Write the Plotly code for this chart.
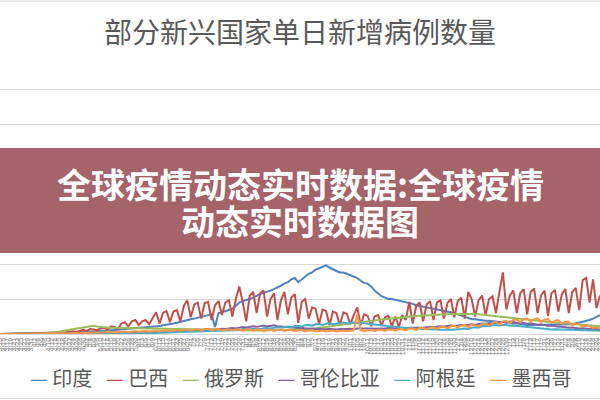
import pandas as pd
import plotly.graph_objects as go

# ---- data (thousands of new cases, sampled every 2 days) ----
START_DATE = "2020-03-13"
N_POINTS = 174
dates = pd.date_range(START_DATE, periods=N_POINTS, freq="2D")
tick_labels = [f"{d.month}/{d.day}" for d in dates]

title_text = "部分新兴国家单日新增病例数量"
banner_line1 = "全球疫情动态实时数据:全球疫情"
banner_line2 = "动态实时数据图"

countries = ["印度", "巴西", "俄罗斯", "哥伦比亚", "阿根廷", "墨西哥"]
colors = ["#4F81BD", "#C0504D", "#9BBB59", "#8064A2", "#4BACC6", "#F79646"]

india = [
    0, 0, 0, 0, 0.1, 0.1, 0.2, 0.2, 0.3, 0.4,
    0.5, 0.6, 0.7, 0.9, 0.9, 1.0, 1.2, 1.3, 1.5, 1.6,
    1.7, 1.8, 1.9, 2.3, 2.6, 3.0, 3.3, 3.6, 4.0, 4.2,
    3.6, 4.8, 5.2, 5.6, 6.0, 6.4, 6.6, 7.0, 7.4, 7.8,
    8.2, 8.8, 9.5, 10, 10.5, 11, 11.5, 12.5, 13, 14,
    15, 16, 17.5, 19, 20, 21, 22, 23, 24, 26,
    27, 28, 10, 30, 31, 33, 34, 36, 40, 45,
    47, 48, 50, 52, 55, 57, 59, 60, 62, 64,
    66, 69, 72, 74, 78, 80, 74, 78, 82, 86,
    88, 92, 94, 96, 98, 95, 92, 90, 88, 88,
    86, 84, 82, 80, 76, 73, 72, 68, 62, 58,
    54, 52, 50, 50, 49, 48, 47, 46, 44, 43,
    41, 40, 39, 38, 38, 37, 36, 35, 34, 33,
    32, 30, 28, 26, 24, 22, 21, 21, 20, 20,
    19, 19, 18, 18, 17, 17, 16, 16, 15, 15,
    14, 14, 13, 13, 13, 13, 13, 13, 13, 13,
    13, 13, 13, 13, 14, 14, 15, 16, 17, 18,
    20, 22, 25, 27,
]
brazil = [
    0, 0, 0.1, 0.2, 0.3, 0.4, 0.5, 0.7, 1.0, 1.1,
    1.2, 1.3, 1.5, 1.6, 2.0, 1.8, 2.5, 2.8, 3.0, 2.5,
    3.5, 4.0, 3.0, 5.0, 6.0, 4.5, 7.0, 6.5, 5.5, 8.0,
    9.0, 6.0, 11, 10, 7, 15, 17, 11, 18, 20,
    13, 18, 20, 14, 22, 31, 15, 30, 33, 17,
    32, 34, 18, 40, 48, 24, 42, 45, 22, 44,
    46, 20, 41, 47, 27, 45, 48, 25, 50, 68,
    45, 18, 55, 60, 30, 58, 62, 25, 50, 58,
    20, 48, 60, 28, 52, 57, 16, 46, 50, 22,
    38, 36, 14, 35, 33, 13, 32, 30, 12, 31,
    29, 14, 27, 38, 13, 28, 26, 11, 25, 27,
    12, 24, 26, 11, 25, 10, 27, 20, 46, 15,
    40, 45, 18, 42, 47, 20, 45, 48, 22, 44,
    50, 24, 47, 52, 22, 60, 50, 25, 48, 55,
    27, 50, 54, 30, 60, 88, 35, 55, 62, 30,
    58, 64, 28, 60, 65, 30, 55, 62, 26, 58,
    63, 32, 57, 64, 30, 60, 66, 34, 77, 80,
    45, 78, 37, 55,
]
russia = [
    0, 0, 0, 0, 0, 0, 0, 0.1, 0.2, 0.3,
    0.4, 0.6, 0.8, 1.2, 1.5, 2.0, 2.8, 3.4, 4.3, 5.2,
    5.8, 6.4, 7.1, 7.9, 9.6, 10.6, 11.0, 11.6, 10.8, 10.0,
    9.5, 9.2, 9.0, 8.9, 8.8, 8.7, 8.6, 8.5, 8.4, 8.2,
    8.0, 7.8, 7.7, 7.6, 7.3, 7.0, 6.8, 6.7, 6.6, 6.6,
    6.5, 6.4, 6.3, 6.2, 6.1, 6.0, 5.9, 5.8, 5.7, 5.6,
    5.5, 5.4, 5.3, 5.2, 5.2, 5.1, 5.1, 5.0, 5.0, 4.9,
    4.9, 4.9, 4.8, 4.8, 4.8, 4.9, 4.9, 5.0, 5.0, 5.1,
    5.2, 5.3, 5.4, 5.5, 5.7, 5.9, 6.1, 6.4, 6.8, 7.2,
    7.6, 8.1, 8.7, 9.3, 10.0, 10.9, 11.6, 12.3, 13.1, 13.9,
    14.5, 15.1, 15.7, 16.3, 17.0, 17.5, 18.0, 18.6, 19.3, 20.0,
    20.6, 21.2, 21.8, 22.4, 23.0, 23.4, 23.8, 24.3, 24.8, 25.2,
    25.6, 26.0, 26.4, 26.8, 27.0, 27.3, 27.6, 27.9, 28.1, 28.3,
    28.5, 28.6, 28.8, 28.9, 29.0, 29.0, 28.9, 28.6, 28.2, 27.8,
    27.3, 26.8, 26.2, 25.6, 25.0, 24.4, 23.8, 23.2, 22.6, 22.0,
    21.4, 20.8, 20.2, 19.7, 19.2, 18.7, 18.2, 17.7, 17.2, 16.8,
    16.4, 16.0, 15.6, 15.2, 14.8, 14.4, 14.0, 13.6, 13.2, 12.8,
    12.4, 12.0, 11.6, 11.2,
]
colombia = [
    0, 0, 0, 0, 0, 0, 0, 0, 0, 0,
    0.1, 0.1, 0.1, 0.2, 0.2, 0.2, 0.3, 0.2, 0.3, 0.3,
    0.3, 0.4, 0.3, 0.4, 0.5, 0.5, 0.6, 0.5, 0.7, 0.8,
    0.7, 0.9, 1.0, 0.8, 1.1, 1.2, 1.0, 1.3, 1.2, 1.5,
    1.6, 1.4, 1.8, 2.0, 1.7, 2.2, 2.5, 2.3, 3.0, 3.2,
    3.0, 3.6, 4.0, 3.5, 4.2, 4.6, 4.0, 5.0, 5.5, 5.0,
    6.0, 6.5, 6.2, 7.0, 7.6, 7.0, 8.2, 8.5, 8.0, 9.5,
    10.0, 9.2, 10.5, 11.0, 10.2, 11.5, 12.0, 10.8, 11.5, 12.5,
    11.0, 10.5, 11.0, 9.5, 10.0, 9.0, 8.5, 9.0, 7.8, 8.0,
    7.5, 7.0, 7.6, 7.2, 6.8, 7.5, 7.0, 6.5, 7.2, 6.8,
    7.0, 7.5, 6.8, 7.8, 8.0, 7.6, 8.5, 8.0, 7.5, 8.2,
    8.0, 7.6, 8.8, 8.5, 8.0, 9.0, 8.6, 8.2, 9.0, 8.8,
    8.5, 9.2, 9.0, 9.5, 10.2, 9.8, 10.5, 11.0, 10.6, 11.5,
    12.0, 11.6, 12.5, 13.0, 12.2, 13.5, 14.0, 13.2, 14.5, 15.0,
    14.6, 15.8, 16.5, 15.5, 17.0, 17.5, 16.2, 17.8, 17.0, 16.0,
    16.5, 15.5, 14.8, 15.2, 14.0, 13.2, 13.6, 12.5, 11.8, 12.0,
    11.0, 10.2, 10.5, 9.6, 9.0, 9.2, 8.5, 8.0, 8.3, 7.6,
    7.2, 7.5, 6.8, 6.5,
]
argentina = [
    0, 0, 0, 0, 0, 0, 0, 0, 0, 0,
    0.1, 0.1, 0.1, 0.1, 0.1, 0.1, 0.1, 0.1, 0.1, 0.1,
    0.1, 0.1, 0.2, 0.2, 0.2, 0.2, 0.2, 0.2, 0.3, 0.3,
    0.3, 0.4, 0.4, 0.5, 0.5, 0.6, 0.7, 0.6, 0.8, 0.9,
    1.0, 1.1, 0.9, 1.3, 1.4, 1.2, 1.8, 2.0, 1.7, 2.3,
    2.5, 2.2, 2.9, 3.2, 2.8, 3.6, 3.8, 3.3, 4.2, 4.4,
    3.9, 4.8, 5.0, 4.5, 5.5, 5.8, 5.1, 6.2, 6.5, 5.8,
    7.0, 7.2, 6.5, 7.6, 7.8, 7.0, 8.3, 8.6, 7.8, 9.2,
    9.5, 8.8, 10.2, 10.6, 9.6, 11.4, 11.8, 10.8, 12.6, 13.0,
    12.0, 13.8, 14.2, 13.0, 14.8, 15.2, 14.0, 15.0, 16.0, 16.5,
    15.0, 16.2, 16.8, 15.5, 16.0, 15.2, 14.8, 14.2, 13.6, 13.0,
    12.4, 11.8, 11.2, 10.6, 10.0, 9.5, 9.0, 8.6, 8.2, 7.8,
    7.5, 7.2, 6.5, 6.8, 6.6, 6.0, 6.3, 6.2, 5.6, 6.0,
    6.2, 6.5, 6.0, 7.2, 7.8, 7.2, 9.0, 9.6, 9.0, 11.0,
    11.6, 11.0, 12.6, 13.0, 12.0, 13.0, 12.8, 11.8, 12.0, 11.5,
    10.5, 10.5, 10.0, 9.0, 9.0, 8.6, 7.8, 7.8, 7.4, 6.6,
    6.8, 6.6, 6.0, 6.2, 6.0, 5.4, 5.6, 5.4, 4.8, 5.0,
    4.9, 4.4, 4.7, 4.6,
]
mexico = [
    0, 0, 0, 0, 0, 0, 0, 0.1, 0.1, 0.2,
    0.2, 0.3, 0.3, 0.4, 0.5, 0.5, 0.6, 0.7, 0.8, 0.9,
    1.0, 1.1, 1.3, 1.4, 1.6, 1.7, 1.9, 2.1, 1.8, 2.3,
    2.5, 2.2, 2.8, 3.0, 2.6, 3.2, 3.4, 3.0, 3.6, 3.8,
    3.2, 4.0, 4.4, 3.5, 4.6, 4.8, 4.0, 5.0, 5.2, 4.2,
    5.5, 5.8, 4.5, 6.0, 6.2, 4.8, 6.5, 6.8, 5.0, 7.0,
    7.2, 5.4, 6.8, 7.0, 5.2, 6.6, 6.9, 5.0, 6.5, 6.8,
    4.8, 6.4, 6.6, 4.6, 6.2, 6.4, 4.5, 6.0, 6.2, 4.3,
    5.8, 6.0, 4.2, 5.6, 5.8, 4.0, 5.4, 5.5, 3.8, 5.0,
    5.2, 3.6, 4.8, 5.0, 3.5, 4.6, 4.9, 3.6, 4.8, 5.0,
    3.8, 5.0, 5.2, 28.0, 5.5, 4.0, 5.4, 5.6, 4.2, 5.8,
    6.0, 4.5, 6.2, 6.5, 5.0, 6.8, 7.0, 5.4, 7.4, 7.8,
    6.0, 8.2, 8.6, 6.5, 9.0, 9.6, 7.2, 10.0, 10.5, 8.0,
    11.0, 11.8, 9.0, 12.2, 12.8, 10.0, 13.5, 12.0, 11.0, 14.0,
    14.8, 12.0, 16.0, 17.0, 13.5, 18.0, 19.0, 15.0, 20.0, 21.0,
    16.5, 21.5, 22.0, 17.5, 21.0, 22.5, 17.0, 20.5, 21.5, 16.0,
    19.0, 20.0, 14.5, 17.0, 17.5, 12.5, 15.0, 14.0, 10.5, 12.0,
    11.0, 8.5, 9.5, 8.0,
]
series = [india, brazil, russia, colombia, argentina, mexico]

Y_MAX = 400
Y_STEP = 50

# ---- figure ----
fig = go.Figure()
for name, vals, col in zip(countries, series, colors):
    fig.add_trace(go.Scatter(
        x=tick_labels, y=vals, mode="lines", name=name,
        line=dict(color=col, width=2), showlegend=False,
    ))

GRID = "#D9D9D9"
TEXT = "#595959"
CJK = "Noto Sans CJK SC"

fig.update_layout(
    width=600, height=400,
    margin=dict(l=0, r=0, t=54, b=66, autoexpand=False),
    paper_bgcolor="white", plot_bgcolor="white",
    xaxis=dict(
        type="category", range=[0, N_POINTS - 1], automargin=False,
        tickmode="array", tickvals=tick_labels, ticktext=tick_labels,
        tickangle=-90, tickfont=dict(size=7, color="#8C8C8C", family="Liberation Sans"),
        showgrid=False, showline=True, linecolor=GRID, linewidth=1,
        ticks="", zeroline=False,
    ),
    yaxis=dict(
        range=[0, Y_MAX], dtick=Y_STEP, showticklabels=False, automargin=False,
        showgrid=True, gridcolor=GRID, gridwidth=1, zeroline=False,
    ),
)

# chart title
fig.add_annotation(
    text=title_text, xref="paper", yref="paper", x=0.5, y=(334 - 31) / 280,
    xanchor="center", yanchor="middle", showarrow=False,
    font=dict(family=CJK, size=28, color=TEXT),
)

# legend as text row
legend_parts = [f"<span style='color:{c}'>—</span> {n}" for n, c in zip(countries, colors)]
fig.add_annotation(
    text="   ".join(legend_parts), xref="paper", yref="paper",
    x=0.5, y=(334 - 378) / 280, xanchor="center", yanchor="middle",
    showarrow=False, font=dict(family=CJK, size=20, color=TEXT),
)

# outer frame lines (top and bottom of the original chart box)
for yy in [(334 - 1) / 280, (334 - 398.5) / 280]:
    fig.add_shape(type="line", xref="paper", yref="paper", x0=0, x1=1, y0=yy, y1=yy,
                  line=dict(color=GRID, width=1))

# overlay banner
fig.add_shape(type="rect", xref="paper", yref="paper", x0=0, x1=1,
              y0=(334 - 253) / 280, y1=(334 - 148) / 280,
              fillcolor="rgba(160,91,98,0.95)", line=dict(width=0), layer="above")
fig.add_annotation(
    text=f"<b>{banner_line1}</b>", xref="paper", yref="paper",
    x=0.5, y=(334 - 183) / 280, xanchor="center", yanchor="middle", showarrow=False,
    font=dict(family=CJK, size=34, color="white"),
)
fig.add_annotation(
    text=f"<b>{banner_line2}</b>", xref="paper", yref="paper",
    x=0.5, y=(334 - 220) / 280, xanchor="center", yanchor="middle", showarrow=False,
    font=dict(family=CJK, size=34, color="white"),
)

fig.write_html(
    "out.html",
    config={"displayModeBar": False},
    post_script="document.body.style.margin='0';document.body.style.overflow='hidden';",
)
